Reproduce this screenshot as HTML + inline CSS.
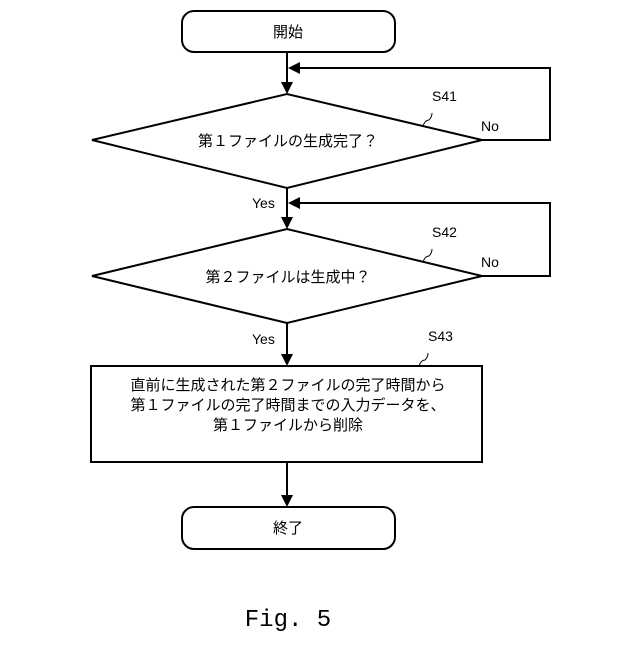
<!DOCTYPE html>
<html><head><meta charset="utf-8"><style>
body{margin:0;background:#fff}
svg text{font-family:"Liberation Sans","Noto Sans CJK JP",sans-serif;fill:#000}
</style></head><body>
<svg width="640" height="640" viewBox="0 0 640 640" xmlns="http://www.w3.org/2000/svg">
<g stroke="#000" stroke-width="2" fill="none">
<rect x="182" y="11" width="213" height="41" rx="12"/>
<line x1="287" y1="52" x2="287" y2="84"/>
<polygon points="92,140 287,94 482,140 287,188"/>
<polyline points="482,140 550,140 550,68 300,68"/>
<line x1="287" y1="188" x2="287" y2="219"/>
<polygon points="92,276 287,229 482,276 287,323"/>
<polyline points="482,276 550,276 550,203 300,203"/>
<line x1="287" y1="323" x2="287" y2="356"/>
<rect x="91" y="366" width="391" height="96"/>
<line x1="287" y1="462" x2="287" y2="497"/>
<rect x="182" y="507" width="213" height="42" rx="12"/>
<path d="M423,126 q2,-6 6,-6 q3,-3 3,-7" stroke-width="1"/>
<path d="M423,262 q2,-6 6,-6 q3,-3 3,-7" stroke-width="1"/>
<path d="M419,366 q2,-6 6,-6 q3,-3 3,-7" stroke-width="1"/>
</g>
<g fill="#000">
<polygon points="281,82 293,82 287,94"/>
<polygon points="281,217 293,217 287,229"/>
<polygon points="281,354 293,354 287,366"/>
<polygon points="281,495 293,495 287,507"/>
<polygon points="288,68 300,62 300,74"/>
<polygon points="288,203 300,197 300,209"/>
</g>
<g font-size="15">
<text x="288" y="37" text-anchor="middle">開始</text>
<text x="288" y="146" text-anchor="middle">第１ファイルの生成完了？</text>
<text x="288" y="282" text-anchor="middle">第２ファイルは生成中？</text>
<text x="288" y="390" text-anchor="middle">直前に生成された第２ファイルの完了時間から</text>
<text x="288" y="410" text-anchor="middle">第１ファイルの完了時間までの入力データを、</text>
<text x="288" y="430" text-anchor="middle">第１ファイルから削除</text>
<text x="288" y="533" text-anchor="middle">終了</text>
</g>
<g font-size="14">
<text x="432" y="101">S41</text>
<text x="481" y="131">No</text>
<text x="252" y="208">Yes</text>
<text x="432" y="237">S42</text>
<text x="481" y="267">No</text>
<text x="252" y="344">Yes</text>
<text x="428" y="341">S43</text>
</g>
<text x="288" y="626" text-anchor="middle" font-size="24" style="font-family:'Liberation Mono',monospace">Fig. 5</text>
</svg>
</body></html>
